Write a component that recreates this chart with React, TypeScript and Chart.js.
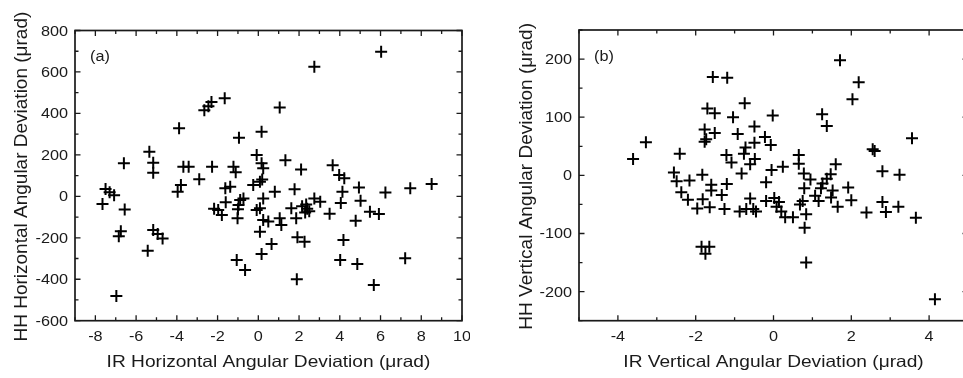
import React, { useEffect, useRef } from "react";
import { Chart, registerables } from "chart.js";

Chart.register(...registerables);

const FONT = '"Liberation Sans", Arial, Helvetica, sans-serif';
const INK = "#1a1a1a";

// Panel (a): horizontal angular deviation
const irHorizontal = [
  -7.65, -7.5, -7.3, -7.08, -6.6, -6.56, -6.75, -6.85, -6.97, -5.35, -5.16, -5.16, -5.43, -5.16, -4.94, -4.7,
  -3.89, -3.68, -3.42, -3.8, -3.96, -2.9, -2.27, -2.65, -2.45, -2.3, -1.65, -1.22, -1.11, -0.95, -1.62, -1.38,
  -2.17, -1.97, -1.79, -1.6, -0.89, -0.73, -0.97, -1.0, -1.02, -1.06, -0.65, -0.25, 0.08, 0.19, -0.08, 0.16,
  0.24, 0.16, 1.05, 2.75, 6.03, 1.33, 2.1, 3.65, 3.97, 4.22, 0.81, 1.78, -0.08, 0.08, 0.24, 0.24, 0.49, 0.08,
  0.16, 0.65, 1.05, 1.13, 1.62, 1.86, 1.92, 2.27, 1.89, 2.15, 2.35, 2.4, 2.5, 2.3, 2.75, 3.04, 3.5, 4.13, 4.05,
  4.18, 4.02, 4.86, 4.78, 5.02, 4.94, 5.48, 5.92, 5.67, 6.24, 7.21, 7.46, 8.51,
];
const hhHorizontal = [
  -37, 35, 20, 5, 160, -63, -168, -192, -481, 215, 162, 114, -262, -163, -182, -203,
  328, 143, 143, 55, 22, 82, 143, 415, 435, 455, 473, 143, 116, 283, 39, 46,
  -60, -66, -90, -28, -18, -10, -42, -62, -106, -307, -355, 55, 70, 81, 199, 160,
  135, 312, 429, 625, 698, 174, 130, 150, 103, 87, 22, 34, -66, -58, -10, -114, -122, -171,
  -278, -230, -106, -138, -58, -106, -197, -219, -400, -48, -40, -60, -72, -78, -10, -26, -84, 22, -32,
  -211, -307, -327, -118, -21, 43, -74, -85, -428, 19, -299, 39, 59,
];

// Panel (b): vertical angular deviation
const irVertical = [
  -3.61, -3.28, -2.41, -1.56, -1.19, -1.7, -1.51, -1.04, -0.74, -0.02, 1.71, 2.19, 2.03, 1.25, 1.37, 3.56,
  2.55, 2.6, -1.77, -1.51, -1.77, -1.73, -0.92, -0.49, -0.49, -0.22, -0.07, -0.72, -0.76, -1.21, -1.08, -0.48,
  -0.6, -0.82, -0.05, 0.24, 0.65, 0.65, 1.6, 1.47, 1.37, 2.8, 3.24, -2.56, -2.49, -2.16, -1.83, -1.6,
  -1.6, -1.2, -2.37, -2.2, -1.82, -1.33, -1.96, -1.64, -1.26, -0.87, -0.7, -0.52, -0.45, -0.6, -0.19, -0.19,
  0.02, 0.14, 0.08, 0.2, 0.3, 0.5, 0.84, 0.68, 0.8, 0.84, 0.78, 0.95, 1.26, 1.22, 0.79, 1.07,
  0.75, 1.16, 1.52, 1.48, 1.65, 1.92, 2.0, 2.39, 2.8, 2.89, 3.21, 3.66, 4.15, -1.85, -1.65, -1.75,
];
const hhVertical = [
  28, 57, 37, 169, 168, 115, 107, 100, 124, 103, 198, 160, 131, 105, 85, 64,
  45, 42, 79, 73, 58, 62, 71, 84, 56, 66, 52, 48, 37, 35, 22, 28,
  19, 3, 9, 15, 35, 20, 19, 2, -6, 7, 1, 5, -10, -9, 1, -16,
  -26, -15, -29, -42, -41, -34, -57, -55, -58, -62, -58, -58, -62, -40, -12, -44,
  -39, -46, -54, -62, -72, -72, -67, -50, -90, -150, 3, -7, -14, -22, -22, -35,
  -44, -44, -26, -38, -54, -21, -43, -64, -46, -63, -54, -73, -213, -123, -123, -135,
];

// Axis ticks (labelled values) and titles
const aXTicks = [-8, -6, -4, -2, 0, 2, 4, 6, 8, 10];
const aYTicks = [-600, -400, -200, 0, 200, 400, 600, 800];
const bXTicks = [-4, -2, 0, 2, 4];
const bYTicks = [-200, -100, 0, 100, 200];
const aXTitle = "IR Horizontal Angular Deviation (μrad)";
const aYTitle = "HH Horizontal Angular Deviation (μrad)";
const bXTitle = "IR Vertical Angular Deviation (μrad)";
const bYTitle = "HH Vertical Angular Deviation (μrad)";
const aTag = "(a)";
const bTag = "(b)";

function txt(
  ctx: CanvasRenderingContext2D,
  s: string,
  x: number,
  y: number,
  size: number,
  align: CanvasTextAlign,
  sx: number,
  rot = 0
) {
  ctx.save();
  ctx.translate(x, y);
  if (rot) ctx.rotate(rot);
  ctx.scale(sx, 1);
  ctx.font = `${size}px ${FONT}`;
  ctx.textAlign = align;
  ctx.textBaseline = "alphabetic";
  ctx.fillStyle = INK;
  ctx.fillText(s, 0, 0);
  ctx.restore();
}

type Cfg = {
  xs: number[];
  ys: number[];
  xMin: number;
  xMax: number;
  yMin: number;
  yMax: number;
  xStep: number;
  yStep: number;
  xMajor: number[];
  yMajor: number[];
  xTitle: string;
  yTitle: string;
  tag: string;
  yTitleX: number;
  width: number;
  left: number;
  pad: { left: number; top: number; right: number; bottom: number };
};

const isMajor = (list: number[], v: number) => list.some((m) => Math.abs(m - v) < 1e-6);

function framePlugin(cfg: Cfg) {
  return {
    id: "frame",
    afterDraw(chart: any) {
      const { ctx, chartArea: a, scales } = chart;
      const xs = scales.x;
      const ys = scales.y;
      ctx.save();
      ctx.strokeStyle = INK;
      ctx.lineWidth = 1.3;
      ctx.beginPath();
      for (const t of xs.ticks) {
        const p = xs.getPixelForValue(t.value);
        const L = isMajor(cfg.xMajor, t.value) ? 5.5 : 3.5;
        ctx.moveTo(p, a.bottom);
        ctx.lineTo(p, a.bottom - L);
        ctx.moveTo(p, a.top);
        ctx.lineTo(p, a.top + L);
      }
      for (const t of ys.ticks) {
        const p = ys.getPixelForValue(t.value);
        const L = isMajor(cfg.yMajor, t.value) ? 5.5 : 3.5;
        ctx.moveTo(a.left, p);
        ctx.lineTo(a.left + L, p);
        ctx.moveTo(a.right, p);
        ctx.lineTo(a.right - L, p);
      }
      ctx.stroke();
      ctx.lineWidth = 1.7;
      ctx.strokeRect(a.left, a.top, a.right - a.left, a.bottom - a.top);
      ctx.restore();

      for (const v of cfg.xMajor) {
        txt(ctx, String(v), xs.getPixelForValue(v), a.bottom + 20, 14, "center", 1.16);
      }
      for (const v of cfg.yMajor) {
        txt(ctx, String(v), a.left - 7, ys.getPixelForValue(v) + 5, 14, "right", 1.16);
      }
      txt(ctx, cfg.xTitle, (a.left + a.right) / 2, 367, 16.5, "center", 1.16);
      txt(ctx, cfg.yTitle, cfg.yTitleX, (a.top + a.bottom) / 2 + 1, 19, "center", 1, -Math.PI / 2);
      txt(ctx, cfg.tag, a.left + 15, 60.5, 14, "left", 1.16);
    },
  };
}

function Panel({ cfg }: { cfg: Cfg }) {
  const ref = useRef<HTMLCanvasElement>(null);
  useEffect(() => {
    const points = cfg.xs.map((x, i) => ({ x, y: cfg.ys[i] }));
    const chart = new Chart(ref.current as HTMLCanvasElement, {
      type: "scatter",
      data: {
        datasets: [
          {
            data: points,
            pointStyle: "cross",
            pointRadius: 6,
            pointBorderWidth: 2,
            borderColor: "#000",
            backgroundColor: "#000",
          },
        ],
      },
      options: {
        responsive: false,
        animation: false,
        events: [],
        layout: { padding: cfg.pad },
        plugins: { legend: { display: false }, tooltip: { enabled: false } },
        scales: {
          x: {
            type: "linear",
            display: false,
            min: cfg.xMin,
            max: cfg.xMax,
            ticks: { stepSize: cfg.xStep },
          },
          y: {
            type: "linear",
            display: false,
            min: cfg.yMin,
            max: cfg.yMax,
            ticks: { stepSize: cfg.yStep },
          },
        },
      },
      plugins: [framePlugin(cfg)],
    } as any);
    return () => chart.destroy();
  }, []);
  return (
    <canvas
      ref={ref}
      width={cfg.width}
      height={378}
      style={{ position: "absolute", left: cfg.left, top: 0, width: cfg.width, height: 378 }}
    />
  );
}

const panelA: Cfg = {
  xs: irHorizontal,
  ys: hhHorizontal,
  xMin: -9,
  xMax: 10,
  yMin: -600,
  yMax: 800,
  xStep: 1,
  yStep: 100,
  xMajor: aXTicks,
  yMajor: aYTicks,
  xTitle: aXTitle,
  yTitle: aYTitle,
  tag: aTag,
  yTitleX: 26.7,
  width: 470,
  left: 0,
  pad: { left: 75, top: 30.5, right: 4.3, bottom: 57.3 },
};

const panelB: Cfg = {
  xs: irVertical,
  ys: hhVertical,
  xMin: -5,
  xMax: 5,
  yMin: -250,
  yMax: 250,
  xStep: 1,
  yStep: 50,
  xMajor: bXTicks,
  yMajor: bYTicks,
  xTitle: bXTitle,
  yTitle: bYTitle,
  tag: bTag,
  yTitleX: 51.7,
  width: 500,
  left: 480,
  pad: { left: 99, top: 30, right: 12, bottom: 57.3 },
};

export default function App() {
  return (
    <div
      style={{
        position: "fixed",
        left: 0,
        top: 0,
        width: 963,
        height: 378,
        overflow: "hidden",
        background: "#fff",
      }}
    >
      <Panel cfg={panelA} />
      <Panel cfg={panelB} />
    </div>
  );
}
